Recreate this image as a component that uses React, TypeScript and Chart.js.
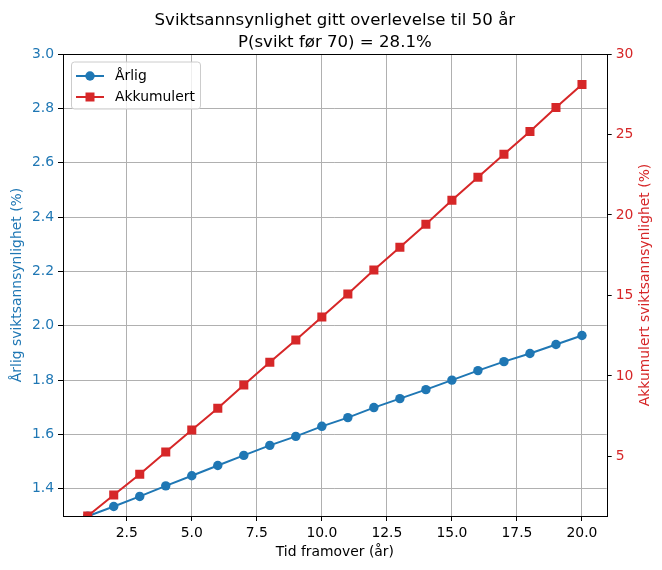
import React, { useEffect, useRef } from "react";
import { Chart, registerables } from "chart.js";

Chart.register(...registerables);

const years = [1, 2, 3, 4, 5, 6, 7, 8, 9, 10, 11, 12, 13, 14, 15, 16, 17, 18, 19, 20];
const annual = [1.299, 1.335, 1.372, 1.411, 1.448, 1.486, 1.523, 1.56, 1.593, 1.63, 1.662, 1.699, 1.732, 1.765, 1.8, 1.835, 1.868, 1.898, 1.931, 1.964];
const cumulative = [1.3, 2.6, 3.89, 5.28, 6.64, 7.99, 9.44, 10.85, 12.23, 13.66, 15.09, 16.58, 17.99, 19.42, 20.91, 22.34, 23.77, 25.19, 26.68, 28.11];
const xTicks = [2.5, 5, 7.5, 10, 12.5, 15, 17.5, 20];
const leftTicks = [1.4, 1.6, 1.8, 2.0, 2.2, 2.4, 2.6, 2.8, 3.0];
const rightTicks = [5, 10, 15, 20, 25, 30];
const titleLines = ["Sviktsannsynlighet gitt overlevelse til 50 år", "P(svikt før 70) = 28.1%"];
const xLabel = "Tid framover (år)";
const leftLabel = "Årlig sviktsannsynlighet (%)";
const rightLabel = "Akkumulert sviktsannsynlighet (%)";
const seriesNames = ["Årlig", "Akkumulert"];

const BLUE = "#1f77b4";
const RED = "#d62728";
const FONT = "DejaVu Sans";

export default function App() {
  const ref = useRef<HTMLCanvasElement>(null);

  useEffect(() => {
    const canvas = ref.current;
    if (!canvas) return;

    const decor = {
      id: "decor",
      afterDraw(chart: any) {
        const ctx = chart.ctx;
        const a = chart.chartArea;
        ctx.save();
        // frame
        ctx.strokeStyle = "#000";
        ctx.lineWidth = 1;
        ctx.strokeRect(Math.round(a.left) + 0.5, Math.round(a.top) + 0.5, Math.round(a.right - a.left), Math.round(a.bottom - a.top));
        // title
        ctx.fillStyle = "#000";
        ctx.font = `16.6px "${FONT}"`;
        ctx.textAlign = "center";
        ctx.textBaseline = "alphabetic";
        const cx = (a.left + a.right) / 2;
        ctx.fillText(titleLines[0], cx, 25);
        ctx.fillText(titleLines[1], cx, 47);
        // x label
        ctx.font = `13.9px "${FONT}"`;
        ctx.fillText(xLabel, cx, 556);
        // left label
        const cy = (a.top + a.bottom) / 2;
        ctx.save();
        ctx.translate(21, cy);
        ctx.rotate(-Math.PI / 2);
        ctx.fillStyle = BLUE;
        ctx.textBaseline = "alphabetic";
        ctx.fillText(leftLabel, 0, 0);
        ctx.restore();
        // right label
        ctx.save();
        ctx.translate(649, cy);
        ctx.rotate(-Math.PI / 2);
        ctx.fillStyle = RED;
        ctx.fillText(rightLabel, 0, 0);
        ctx.restore();
        // legend
        const lx = 71, ly = 61.5, lw = 129, lh = 47;
        ctx.beginPath();
        if ((ctx as any).roundRect) (ctx as any).roundRect(lx + 0.5, ly + 0.5, lw, lh, 3);
        else ctx.rect(lx + 0.5, ly + 0.5, lw, lh);
        ctx.fillStyle = "rgba(255,255,255,0.8)";
        ctx.fill();
        ctx.strokeStyle = "#cccccc";
        ctx.lineWidth = 1;
        ctx.stroke();
        const rows = [
          { name: seriesNames[0], color: BLUE, y: 76, shape: "circle" },
          { name: seriesNames[1], color: RED, y: 97, shape: "rect" },
        ];
        rows.forEach((r) => {
          ctx.strokeStyle = r.color;
          ctx.lineWidth = 2;
          ctx.beginPath();
          ctx.moveTo(76, r.y);
          ctx.lineTo(104, r.y);
          ctx.stroke();
          ctx.fillStyle = r.color;
          ctx.beginPath();
          if (r.shape === "circle") ctx.arc(90, r.y, 4.7, 0, Math.PI * 2);
          else ctx.rect(85.5, r.y - 4.5, 9, 9);
          ctx.fill();
          ctx.fillStyle = "#000";
          ctx.font = `13.9px "${FONT}"`;
          ctx.textAlign = "left";
          ctx.textBaseline = "middle";
          ctx.fillText(r.name, 115, r.y);
        });
        ctx.restore();
      },
    };

    const chart = new Chart(canvas, {
      type: "line",
      data: {
        datasets: [
          {
            label: seriesNames[1],
            data: years.map((x, i) => ({ x, y: cumulative[i] })),
            yAxisID: "y1",
            borderColor: RED,
            backgroundColor: RED,
            borderWidth: 2,
            pointStyle: "rect",
            pointRadius: 6.4,
            pointBorderWidth: 0,
            order: 0,
          },
          {
            label: seriesNames[0],
            data: years.map((x, i) => ({ x, y: annual[i] })),
            yAxisID: "y",
            borderColor: BLUE,
            backgroundColor: BLUE,
            borderWidth: 2,
            pointStyle: "circle",
            pointRadius: 4.7,
            pointBorderWidth: 0,
            order: 1,
          },
        ],
      },
      options: {
        responsive: false,
        animation: false,
        devicePixelRatio: 1,
        layout: { padding: { top: 54, left: 0, right: 0, bottom: 0 } },
        plugins: { legend: { display: false }, tooltip: { enabled: false }, title: { display: false } },
        elements: { line: { tension: 0 } },
        scales: {
          x: {
            type: "linear",
            min: 0.05,
            max: 20.95,
            afterBuildTicks: (s: any) => {
              s.ticks = xTicks.map((v) => ({ value: v }));
            },
            afterFit: (s: any) => {
              s.height = 54;
            },
            grid: { color: "#b0b0b0", lineWidth: 1, tickColor: "#000", tickLength: 5, drawTicks: true },
            border: { display: false },
            ticks: {
              color: "#000",
              font: { family: FONT, size: 13.9 },
              padding: 4,
              maxRotation: 0,
              callback: (v: any) => Number(v).toFixed(1),
            },
          },
          y: {
            type: "linear",
            position: "left",
            min: 1.3,
            max: 3.0,
            afterBuildTicks: (s: any) => {
              s.ticks = leftTicks.map((v) => ({ value: v }));
            },
            afterFit: (s: any) => {
              s.width = 63;
            },
            grid: { color: "#b0b0b0", lineWidth: 1, tickColor: "#000", tickLength: 5 },
            border: { display: false },
            ticks: {
              color: BLUE,
              font: { family: FONT, size: 13.9 },
              padding: 4,
              callback: (v: any) => Number(v).toFixed(1),
            },
          },
          y1: {
            type: "linear",
            position: "right",
            min: 1.3,
            max: 30,
            afterBuildTicks: (s: any) => {
              s.ticks = rightTicks.map((v) => ({ value: v }));
            },
            afterFit: (s: any) => {
              s.width = 55.3;
            },
            grid: { drawOnChartArea: false, tickColor: "#000", tickLength: 5 },
            border: { display: false },
            ticks: {
              color: RED,
              font: { family: FONT, size: 13.9 },
              padding: 4,
              callback: (v: any) => String(Math.round(Number(v))),
            },
          },
        },
      },
      plugins: [decor],
    } as any);

    return () => chart.destroy();
  }, []);

  return (
    <div style={{ position: "absolute", left: 0, top: 0, width: 662, height: 570, background: "#fff" }}>
      <canvas ref={ref} width={662} height={570} style={{ display: "block" }} />
    </div>
  );
}
